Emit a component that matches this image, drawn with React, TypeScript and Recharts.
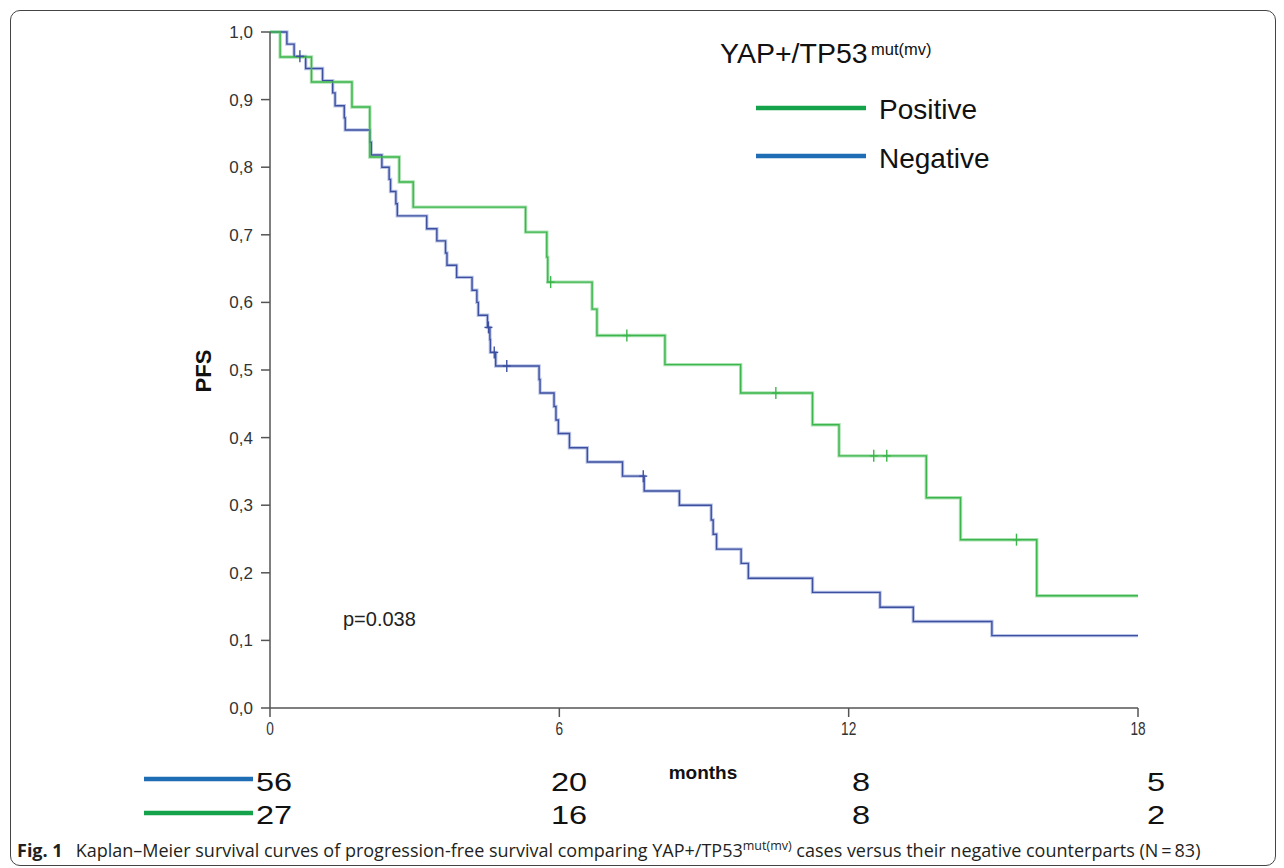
import React from 'react';
import { ComposedChart, Line, Scatter, XAxis, YAxis } from 'recharts';

// Kaplan-Meier steps (months, PFS)
const negTimes = [0, 0.35, 0.5, 0.74, 1.09, 1.3, 1.35, 1.54, 1.56, 2.07, 2.1, 2.32, 2.47, 2.5, 2.61, 2.64, 3.25, 3.46, 3.64, 3.67, 3.87, 4.19, 4.29, 4.32, 4.51, 4.56, 4.57, 4.68, 5.58, 5.6, 5.89, 5.93, 5.98, 6.21, 6.58, 7.31, 7.76, 8.49, 9.15, 9.19, 9.26, 9.77, 9.92, 11.25, 12.65, 13.34, 14.97, 18];
const negSurv = [1, 0.982, 0.964, 0.946, 0.928, 0.91, 0.891, 0.873, 0.855, 0.837, 0.818, 0.8, 0.782, 0.764, 0.746, 0.728, 0.709, 0.691, 0.673, 0.655, 0.637, 0.618, 0.6, 0.581, 0.563, 0.545, 0.526, 0.506, 0.486, 0.466, 0.446, 0.426, 0.406, 0.385, 0.364, 0.343, 0.321, 0.3, 0.278, 0.257, 0.235, 0.214, 0.192, 0.171, 0.149, 0.128, 0.107, 0.107];

const posTimes = [0, 0.21, 0.86, 1.7, 2.07, 2.68, 2.97, 5.3, 5.74, 5.76, 6.68, 6.78, 8.19, 9.76, 11.25, 11.8, 13.61, 14.32, 15.9, 18];
const posSurv = [1, 0.963, 0.926, 0.889, 0.815, 0.778, 0.741, 0.704, 0.667, 0.63, 0.59, 0.551, 0.508, 0.466, 0.419, 0.373, 0.311, 0.249, 0.166, 0.166];

// censored cases
const negCensorT = [0.62, 4.53, 4.65, 4.91, 7.74];
const negCensorS = [0.964, 0.563, 0.526, 0.506, 0.343];
const posCensorT = [5.82, 7.4, 10.49, 12.52, 12.79, 15.48];
const posCensorS = [0.63, 0.551, 0.466, 0.373, 0.373, 0.249];

const xTicks = [0, 6, 12, 18];
const yTicks = [0, 0.1, 0.2, 0.3, 0.4, 0.5, 0.6, 0.7, 0.8, 0.9, 1.0];

// numbers at risk
const negAtRisk = [56, 20, 8, 5];
const posAtRisk = [27, 16, 8, 2];

const negData = negTimes.map((t, i) => ({ t, s: negSurv[i] }));
const posData = posTimes.map((t, i) => ({ t, s: posSurv[i] }));
const negCensor = negCensorT.map((t, i) => ({ t, s: negCensorS[i] }));
const posCensor = posCensorT.map((t, i) => ({ t, s: posCensorS[i] }));

const NEG = '#3d4f9f';
const NEG_HALO = '#bcc6e8';
const POS = '#3cb64c';
const POS_HALO = '#ade2b4';
const LEG_BLUE = '#1f6db4';
const LEG_GREEN = '#14a24b';
const AX = '#555555';
const FONT = '"Liberation Sans", Arial, sans-serif';

const censorMark = (color: string) => (props: any) => {
  const { cx, cy } = props;
  return (
    <g stroke={color} strokeWidth={1.4}>
      <line x1={cx} y1={cy - 6} x2={cx} y2={cy + 6} />
      <line x1={cx - 4} y1={cy} x2={cx + 4} y2={cy} />
    </g>
  );
};

// narrow-looking month labels under the x axis
const MonthTick = (props: any) => {
  const { x, y, payload } = props;
  return (
    <text transform={`translate(${x},${y + 15}) scale(0.72,1)`} textAnchor="middle" fontSize={19} fontFamily={FONT} fill="#333">
      {payload.value}
    </text>
  );
};

const riskX = [256, 551, 852, 1147];

const App: React.FC = () => {
  return (
    <div style={{ position: 'absolute', left: 0, top: 0, width: 1284, height: 868, background: '#fff', overflow: 'hidden' }}>
      {/* figure frame */}
      <div style={{ position: 'absolute', left: 10, top: 10, width: 1264, height: 854, border: '1.3px solid #444', borderRadius: 10 }} />

      <div style={{ position: 'absolute', left: 0, top: 0 }}>
        <ComposedChart width={1284} height={868} margin={{ top: 32, right: 146, bottom: 130, left: 210 }}>
          <XAxis
            dataKey="t"
            type="number"
            domain={[0, 18]}
            ticks={xTicks}
            tickSize={9}
            tickMargin={3}
            axisLine={{ stroke: AX, strokeWidth: 1.5 }}
            tickLine={{ stroke: AX, strokeWidth: 1.5 }}
            tick={<MonthTick />}
            height={30}
          />
          <YAxis
            dataKey="s"
            type="number"
            domain={[0, 1]}
            ticks={yTicks}
            tickSize={9}
            tickMargin={8}
            tickFormatter={(v: number) => v.toFixed(1).replace('.', ',')}
            axisLine={{ stroke: AX, strokeWidth: 1.5 }}
            tickLine={{ stroke: AX, strokeWidth: 1.5 }}
            tick={{ fill: '#333', fontSize: 17, fontFamily: FONT }}
            width={60}
          />
          <Line data={negData} dataKey="s" type="stepAfter" stroke={NEG_HALO} strokeWidth={3.4} dot={false} isAnimationActive={false} />
          <Line data={posData} dataKey="s" type="stepAfter" stroke={POS_HALO} strokeWidth={3.4} dot={false} isAnimationActive={false} />
          <Line data={negData} dataKey="s" type="stepAfter" stroke={NEG} strokeWidth={1.4} dot={false} isAnimationActive={false} />
          <Line data={posData} dataKey="s" type="stepAfter" stroke={POS} strokeWidth={1.4} dot={false} isAnimationActive={false} />
          <Scatter data={negCensor} dataKey="s" shape={censorMark(NEG)} isAnimationActive={false} />
          <Scatter data={posCensor} dataKey="s" shape={censorMark(POS)} isAnimationActive={false} />
        </ComposedChart>
      </div>

      <svg width={1284} height={868} style={{ position: 'absolute', left: 0, top: 0, pointerEvents: 'none' }}>
        <g fontFamily={FONT}>
          <text x={0} y={0} transform="translate(211,371) rotate(-90)" textAnchor="middle" fontSize={22} fontWeight="bold" fill="#111">PFS</text>
          <text x={343} y={626} fontSize={20} fill="#222">p=0.038</text>

          <text x={720} y={63} fontSize={28.5} fill="#111">YAP+/TP53</text>
          <text x={871} y={55} fontSize={16.5} fill="#111">mut(mv)</text>
          <line x1={756} y1={108} x2={866} y2={108} stroke={LEG_GREEN} strokeWidth={4.5} />
          <text x={879} y={119} fontSize={28} fill="#111">Positive</text>
          <line x1={756} y1={156} x2={866} y2={156} stroke={LEG_BLUE} strokeWidth={4.5} />
          <text x={879} y={168} fontSize={28} fill="#111">Negative</text>

          <text x={703} y={779} textAnchor="middle" fontSize={19} fontWeight="bold" fill="#111">months</text>

          <line x1={144} y1={779} x2={253} y2={779} stroke={LEG_BLUE} strokeWidth={4.5} />
          <line x1={144} y1={813} x2={253} y2={813} stroke={LEG_GREEN} strokeWidth={4.5} />
          {negAtRisk.map((n, i) => (
            <text key={'n' + i} x={0} y={0} transform={`translate(${riskX[i]},791) scale(1.3,1)`} fontSize={25} fill="#111">{n}</text>
          ))}
          {posAtRisk.map((n, i) => (
            <text key={'p' + i} x={0} y={0} transform={`translate(${riskX[i]},824) scale(1.3,1)`} fontSize={25} fill="#111">{n}</text>
          ))}
        </g>
      </svg>

      <div style={{ position: 'absolute', left: 17, top: 835, fontFamily: '"Open Sans", sans-serif', fontSize: 18, color: '#231f20', whiteSpace: 'nowrap', lineHeight: '22px' }}>
        <b>Fig. 1</b><span style={{ marginLeft: 13 }}>Kaplan–Meier survival curves of progression-free survival comparing YAP+/TP53</span><sup style={{ fontSize: 12.5 }}>mut(mv)</sup> cases versus their negative counterparts (N&thinsp;=&thinsp;83)
      </div>
    </div>
  );
};

export default App;
